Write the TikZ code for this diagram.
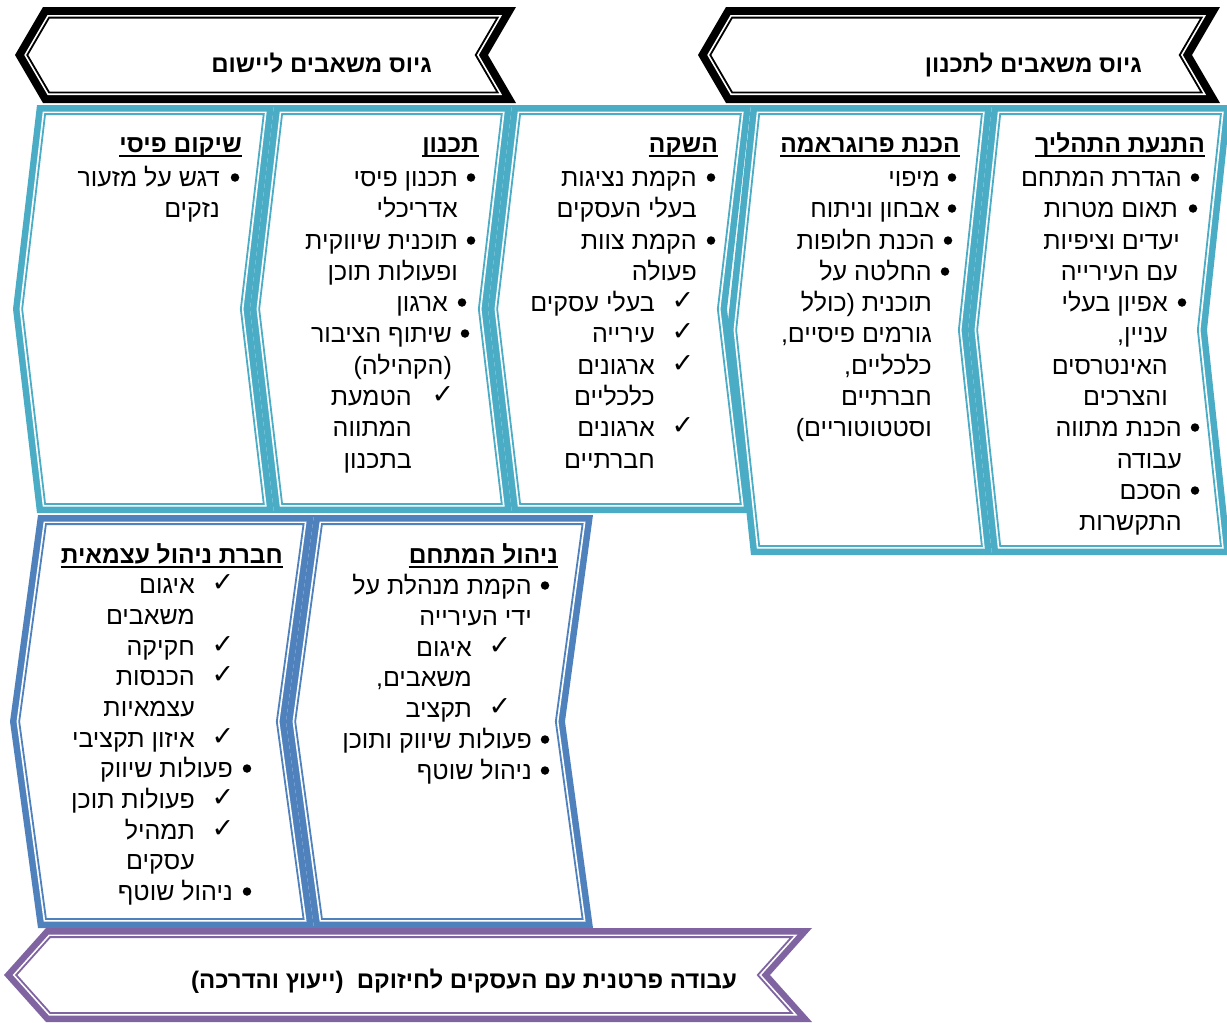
\documentclass[tikz,border=0pt]{standalone}
\usepackage{fontspec}
\setmainfont{Liberation Sans}
\newfontfamily\hebfont[Script=Hebrew]{Liberation Sans}
\newfontfamily\symf{DejaVu Sans}
\TeXXeTstate=1
\definecolor{tealc}{HTML}{4BACC6}
\definecolor{bluec}{HTML}{4F81BD}
\definecolor{purpc}{HTML}{8064A2}
% chevron polygon inset by t: xl xr yt yb d t options
\newcommand\CHP[7]{%
 \pgfmathsetmacro\chvt{#6}%
 \pgfmathsetmacro\chvM{(#3+#4)/2}%
 \pgfmathsetmacro\chvH{(#4-#3)/2}%
 \pgfmathsetmacro\chvK{sqrt(1+(#5/\chvH)*(#5/\chvH))}%
 \pgfmathsetmacro\chvA{#1-#5*\chvt/\chvH+\chvt*\chvK}%
 \pgfmathsetmacro\chvB{#1-#5+\chvt*\chvK}%
 \pgfmathsetmacro\chvC{#2-#5*\chvt/\chvH-\chvt*\chvK}%
 \pgfmathsetmacro\chvD{#2-#5-\chvt*\chvK}%
 \pgfmathsetmacro\chvT{#3+\chvt}%
 \pgfmathsetmacro\chvU{#4-\chvt}%
 \path[#7] (\chvA,\chvT) -- (\chvC,\chvT) -- (\chvD,\chvM) -- (\chvC,\chvU) -- (\chvA,\chvU) -- (\chvB,\chvM) -- cycle;}
% compound (thick-thin) chevron: xl xr yt yb d colour thick
\newcommand\CHEV[7]{%
 \CHP{#1}{#2}{#3}{#4}{#5}{0}{fill=#6}%
 \CHP{#1}{#2}{#3}{#4}{#5}{#7}{fill=white}%
 \CHP{#1}{#2}{#3}{#4}{#5}{#7+2.6}{draw=#6,line width=1.8,line join=miter}}
\newcommand\TXT[4]{\node[tx] (#1) at (#2,#3) {#4};}
\newcommand\BUL[5]{\TXT{#1}{#3}{#4}{#5}\node[bu] (#1b) at (#2,#4-8.5) {};}
\newcommand\CHK[5]{\TXT{#1}{#3}{#4}{#5}\node[ck] (#1c) at (#2,#4-1.5) {✓};}
\newcommand\HDR[4]{\node[hd] (#1) at (#2,#3) {#4};
 \draw[line width=2.3] ([yshift=-4pt]#1.base west) -- ([yshift=-4pt]#1.base east);}
\begin{document}
\begin{tikzpicture}[x=1pt,y=-1pt,
 tx/.style={inner sep=0pt,anchor=base east,font=\hebfont\fontsize{25}{30}\selectfont},
 hd/.style={tx,font=\hebfont\bfseries\fontsize{24.5}{30}\selectfont},
 ttl/.style={tx,font=\hebfont\bfseries\fontsize{24}{28}\selectfont},
 bu/.style={circle,fill=black,inner sep=0pt,minimum size=8.5pt},
 ck/.style={inner sep=0pt,anchor=base,font=\symf\fontsize{27}{30}\selectfont}]
\useasboundingbox (0,0) rectangle (1227,1023);
% header chevrons
\CHEV{43}{516}{7}{103}{28}{black}{8}
\CHEV{726}{1220}{7}{103}{28}{black}{8}
% teal row
\CHEV{37}{274}{105}{513}{24}{tealc}{6.5}
\CHEV{274}{512}{105}{513}{24}{tealc}{6.5}
\CHEV{512}{751}{105}{513}{24}{tealc}{6.5}
\CHEV{751}{992}{105}{555}{24}{tealc}{6.5}
\CHEV{992}{1231}{105}{555}{24}{tealc}{6.5}
% blue row
\CHEV{38}{314}{515}{928}{28}{bluec}{6.5}
\CHEV{314}{593}{515}{928}{28}{bluec}{6.5}
% purple
\CHEV{46}{812}{928}{1022}{42}{purpc}{6.5}
% titles
\node[ttl] (t1) at (1142,72) {\beginR גיוס משאבים לתכנון\endR};
\node[ttl] (t2) at (432,72) {\beginR גיוס משאבים ליישום\endR};
\node[ttl] (t3) at (737,988) {\beginR עבודה פרטנית עם העסקים לחיזוקם\ \ (ייעוץ והדרכה)\endR};
% column 1
\HDR{a0}{1205}{152}{\beginR התנעת התהליך\endR}
\BUL{a1}{1195}{1182}{186}{\beginR הגדרת המתחם\endR}
\BUL{a2}{1193}{1178}{217}{\beginR תאום מטרות\endR}
\TXT{a3}{1180}{249}{\beginR יעדים וציפיות\endR}
\TXT{a4}{1178}{280}{\beginR עם העירייה\endR}
\BUL{a5}{1182}{1168}{311}{\beginR אפיון בעלי\endR}
\TXT{a6}{1168}{342}{\beginR עניין,\endR}
\TXT{a7}{1168}{374}{\beginR האינטרסים\endR}
\TXT{a8}{1168}{405}{\beginR והצרכים\endR}
\BUL{a9}{1195}{1182}{436}{\beginR הכנת מתווה\endR}
\TXT{a10}{1182}{468}{\beginR עבודה\endR}
\BUL{a11}{1195}{1182}{499}{\beginR הסכם\endR}
\TXT{a12}{1182}{530}{\beginR התקשרות\endR}
% column 2
\HDR{b0}{960}{152}{\beginR הכנת פרוגראמה\endR}
\BUL{b1}{952}{940}{186}{\beginR מיפוי\endR}
\BUL{b2}{952}{940}{217}{\beginR אבחון וניתוח\endR}
\BUL{b3}{948}{935}{249}{\beginR הכנת חלופות\endR}
\BUL{b4}{945}{932}{280}{\beginR החלטה על\endR}
\TXT{b5}{932}{311}{\beginR תוכנית (כולל\endR}
\TXT{b6}{932}{342}{\beginR גורמים פיסיים,\endR}
\TXT{b7}{932}{374}{\beginR כלכליים,\endR}
\TXT{b8}{932}{405}{\beginR חברתיים\endR}
\TXT{b9}{932}{436}{\beginR וסטטוטוריים)\endR}
% column 3
\HDR{c0}{718}{152}{\beginR השקה\endR}
\BUL{c1}{711}{697}{186}{\beginR הקמת נציגות\endR}
\TXT{c2}{697}{217}{\beginR בעלי העסקים\endR}
\BUL{c3}{711}{697}{249}{\beginR הקמת צוות\endR}
\TXT{c4}{697}{280}{\beginR פעולה\endR}
\CHK{c5}{683}{655}{311}{\beginR בעלי עסקים\endR}
\CHK{c6}{683}{655}{342}{\beginR עירייה\endR}
\CHK{c7}{683}{655}{374}{\beginR ארגונים\endR}
\TXT{c8}{655}{405}{\beginR כלכליים\endR}
\CHK{c9}{683}{655}{436}{\beginR ארגונים\endR}
\TXT{c10}{655}{468}{\beginR חברתיים\endR}
% column 4
\HDR{d0}{479}{152}{\beginR תכנון\endR}
\BUL{d1}{471}{458}{186}{\beginR תכנון פיסי\endR}
\TXT{d2}{458}{217}{\beginR אדריכלי\endR}
\BUL{d3}{471}{458}{249}{\beginR תוכנית שיווקית\endR}
\TXT{d4}{458}{280}{\beginR ופעולות תוכן\endR}
\BUL{d5}{462}{448}{311}{\beginR ארגון\endR}
\BUL{d6}{465}{452}{342}{\beginR שיתוף הציבור\endR}
\TXT{d7}{452}{374}{\beginR (הקהילה)\endR}
\CHK{d8}{443}{412}{405}{\beginR הטמעת\endR}
\TXT{d9}{412}{436}{\beginR המתווה\endR}
\TXT{d10}{412}{468}{\beginR בתכנון\endR}
% column 5
\HDR{e0}{242}{152}{\beginR שיקום פיסי\endR}
\BUL{e1}{235}{220}{186}{\beginR דגש על מזעור\endR}
\TXT{e2}{220}{217}{\beginR נזקים\endR}
% row 3, right
\HDR{f0}{558}{563}{\beginR ניהול המתחם\endR}
\BUL{f1}{545}{532}{594}{\beginR הקמת מנהלת על\endR}
\TXT{f2}{532}{625}{\beginR ידי העירייה\endR}
\CHK{f3}{500}{472}{656}{\beginR איגום\endR}
\TXT{f4}{472}{686}{\beginR משאבים,\endR}
\CHK{f5}{500}{472}{717}{\beginR תקציב\endR}
\BUL{f6}{545}{532}{748}{\beginR פעולות שיווק ותוכן\endR}
\BUL{f7}{545}{532}{779}{\beginR ניהול שוטף\endR}
% row 3, left
\HDR{g0}{283}{563}{\beginR חברת ניהול עצמאית\endR}
\CHK{g1}{223}{195}{593}{\beginR איגום\endR}
\TXT{g2}{195}{624}{\beginR משאבים\endR}
\CHK{g3}{223}{195}{655}{\beginR חקיקה\endR}
\CHK{g4}{223}{195}{685}{\beginR הכנסות\endR}
\TXT{g5}{195}{716}{\beginR עצמאיות\endR}
\CHK{g6}{223}{195}{747}{\beginR איזון תקציבי\endR}
\BUL{g7}{247}{233}{777}{\beginR פעולות שיווק\endR}
\CHK{g8}{223}{195}{808}{\beginR פעולות תוכן\endR}
\CHK{g9}{223}{195}{839}{\beginR תמהיל\endR}
\TXT{g10}{195}{869}{\beginR עסקים\endR}
\BUL{g11}{247}{233}{900}{\beginR ניהול שוטף\endR}
\end{tikzpicture}
\end{document}
